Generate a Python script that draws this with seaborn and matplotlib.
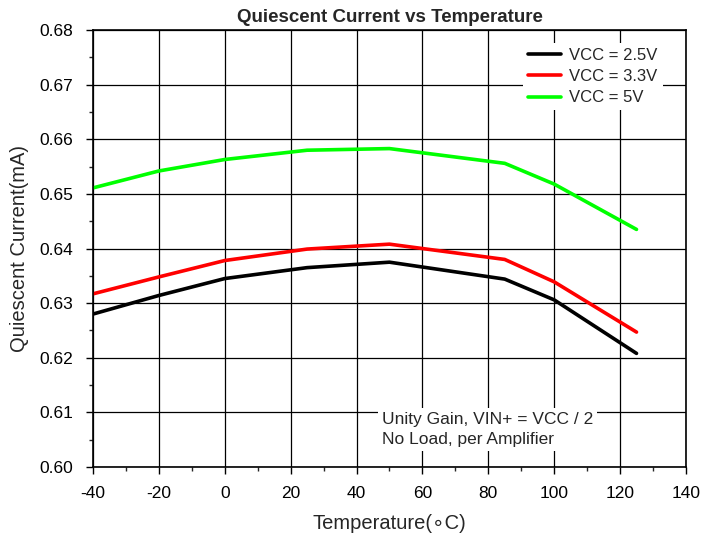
import matplotlib
matplotlib.use("Agg")
import matplotlib.pyplot as plt
from matplotlib.ticker import MultipleLocator, FuncFormatter
import pandas as pd
import seaborn as sns

temps = [-40, -20, 0, 25, 50, 85, 100, 125]
vcc_25 = [0.6280, 0.6314, 0.6345, 0.6365, 0.6375, 0.6344, 0.6306, 0.6208]
vcc_33 = [0.6317, 0.6348, 0.6378, 0.6399, 0.6408, 0.6380, 0.6339, 0.6247]
vcc_5 = [0.6511, 0.6542, 0.6563, 0.6580, 0.6583, 0.6556, 0.6518, 0.6435]
labels = ["VCC = 2.5V", "VCC = 3.3V", "VCC = 5V"]
colors = ["black", "#ff0000", "#00ff00"]

df = pd.concat([
    pd.DataFrame({"temp": temps, "current": v, "series": lab})
    for v, lab in zip([vcc_25, vcc_33, vcc_5], labels)
])

sns.set_style("ticks")
plt.rcParams["font.family"] = ["Liberation Sans", "DejaVu Sans"]

fig = plt.figure(figsize=(7.19, 5.37), dpi=100)
ax = fig.add_axes([0.1293, 0.1304, 0.8247, 0.8136])

sns.lineplot(data=df, x="temp", y="current", hue="series", hue_order=labels,
             palette=colors, linewidth=2.6, ax=ax, sort=False)

ax.set_xlim(-40, 140)
ax.set_ylim(0.60, 0.68)
ax.xaxis.set_major_locator(MultipleLocator(20))
ax.xaxis.set_minor_locator(MultipleLocator(10))
ax.yaxis.set_major_locator(MultipleLocator(0.01))
ax.yaxis.set_minor_locator(MultipleLocator(0.005))
ax.xaxis.set_major_formatter(FuncFormatter(lambda v, p: f"{v:.0f}"))
ax.yaxis.set_major_formatter(FuncFormatter(lambda v, p: f"{v:.2f}"))
ax.grid(True, which="major", color="black", linewidth=0.9)
ax.set_axisbelow(True)
ax.tick_params(which="major", direction="out", length=5, width=1, labelsize=12.5,
               colors="black", pad=9)
ax.tick_params(which="minor", direction="out", length=3, width=1)
for s in ax.spines.values():
    s.set_visible(True)
    s.set_color("black")
    s.set_linewidth(1.2)

ax.set_title("Quiescent Current vs Temperature", fontsize=13.5, fontweight="bold", pad=6)
ax.set_xlabel("Temperature(\u2218C)", fontsize=14.5, labelpad=9)
ax.set_ylabel("Quiescent Current(mA)", fontsize=14.5, labelpad=8)

leg = ax.legend(loc="upper right", bbox_to_anchor=(0.975, 0.99), fontsize=12,
                frameon=True, fancybox=False, framealpha=1, edgecolor="white",
                handlelength=2.0, handletextpad=0.5, borderpad=0.3, labelspacing=0.38)
leg.get_frame().set_linewidth(0)

ax.text(0.487, 0.085, "Unity Gain, VIN+ = VCC / 2\nNo Load, per Amplifier",
        transform=ax.transAxes, fontsize=12.5, va="center", ha="left", linespacing=1.4,
        bbox=dict(facecolor="white", edgecolor="none", pad=3))

fig.savefig("out.png", dpi=100)
